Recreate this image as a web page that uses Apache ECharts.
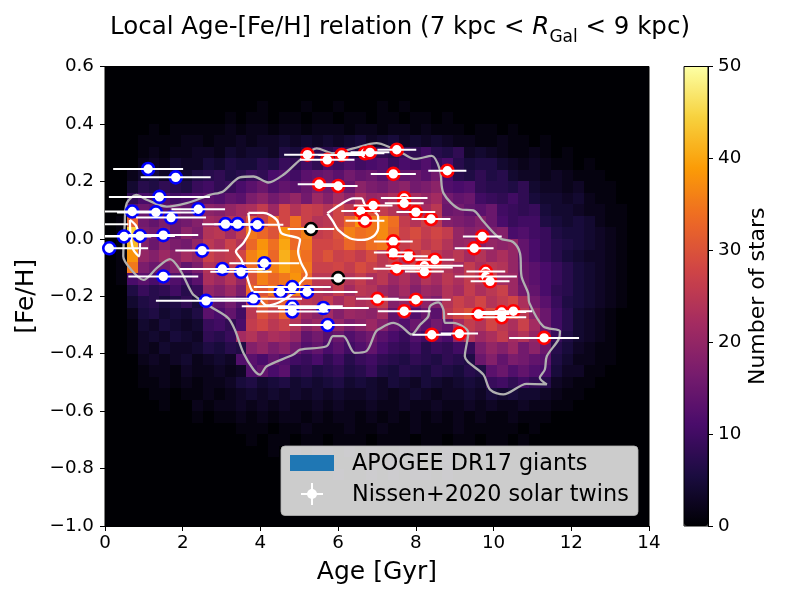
<!DOCTYPE html>
<html><head><meta charset="utf-8">
<style>html,body{margin:0;padding:0;background:#fff}#c{width:800px;height:600px}</style>
<script src="https://cdn.jsdelivr.net/npm/echarts@6/dist/echarts.min.js"></script>
</head><body><div id="c"></div>
<script>
const FONT='DejaVu Sans';
const xTicks=[0,2,4,6,8,10,12,14];
const cbarTicks=[0,10,20,30,40,50];
const ageBinWidth=0.28, fehBinWidth=0.04, fehTop=0.6;
const inferno=['#000004','#1b0c41','#4a0c6b','#781c6d','#a52c60','#cf4446','#ed6925','#fb9b06','#f7d13d','#fcffa4'];
// star counts per bin, top row first; trailing zeros omitted
const counts=[
[],[],[],
[0,0,0,0,0,0,0,0,0,0,0,0,0,0,1,0,0,0,1,0,0,1,0,0,0,1,0,1],
[0,0,0,0,0,0,0,0,0,0,0,1,0,1,1,0,1,1,0,1,1,0,1,1,0,1,1,0,1,1,0,1],
[0,0,0,0,1,0,1,1,1,1,1,2,1,2,2,1,2,2,1,2,2,2,1,2,2,1,2,2,1,2,1,1,1,0,1,1,0,1],
[0,0,0,1,1,1,1,2,2,1,2,2,3,2,3,3,4,3,4,3,4,3,4,5,3,4,5,3,4,3,4,3,2,2,1,1,2,1,1,0,1],
[0,0,0,1,2,1,2,2,3,3,2,4,3,4,4,3,6,5,7,8,7,9,8,6,9,8,7,9,8,10,7,6,8,3,4,3,2,1,1,2,1,0,1],
[0,0,0,2,3,2,4,3,3,5,4,6,5,5,7,6,9,8,10,8,11,10,12,10,11,12,9,11,10,12,9,11,7,5,6,6,4,3,2,3,2,1,1,0,1],
[0,0,2,4,5,3,5,4,6,7,8,6,7,9,8,11,12,10,13,14,15,13,16,14,15,13,16,14,15,13,16,11,7,6,8,6,7,4,3,3,2,3,2,1,1,1],
[0,0,4,7,6,8,7,6,9,10,8,9,11,13,15,12,14,13,15,17,16,18,15,19,17,16,18,19,16,17,19,12,11,12,8,7,7,6,8,4,3,3,2,3,1,1,1],
[0,0,8,11,10,12,10,11,12,13,12,14,13,17,19,16,18,20,16,21,18,22,19,23,20,21,23,18,22,20,22,16,14,15,10,9,8,10,8,5,4,4,3,4,2,1,1],
[0,0,13,15,14,13,16,14,15,19,18,20,22,23,26,21,28,24,27,26,24,28,25,27,30,26,24,23,26,22,25,15,16,14,13,15,10,9,8,9,5,4,4,3,2,2,1,1],
[0,1,32,16,14,17,15,16,18,22,21,24,23,30,27,33,28,34,27,24,25,28,33,38,35,37,34,26,24,27,25,18,17,16,18,15,11,9,10,10,6,5,4,5,4,2,1,1],
[0,1,44,17,16,18,15,19,17,24,25,22,26,35,33,30,38,33,36,26,27,30,36,34,35,37,33,27,29,26,28,26,20,18,19,17,18,11,12,10,9,6,5,5,4,3,2,1],
[0,1,42,18,15,19,17,16,20,25,23,27,24,33,38,34,40,33,35,28,28,29,33,31,34,35,30,26,28,25,27,24,20,21,18,20,19,20,14,11,9,7,6,5,4,3,2,1],
[0,1,38,20,18,21,19,22,20,27,25,26,28,36,39,33,41,36,34,28,30,27,28,26,29,25,27,24,26,28,25,23,25,22,24,21,23,20,14,11,9,7,5,4,3,3,2,1],
[0,1,35,17,15,16,18,14,17,24,23,26,22,33,42,36,40,37,35,27,27,28,26,29,27,25,26,23,27,24,26,24,22,26,23,25,24,20,15,13,11,9,7,5,4,3,2,1],
[0,1,11,13,11,14,12,10,13,23,21,24,20,30,36,33,35,38,33,25,25,28,24,26,23,25,21,23,20,24,22,25,23,26,24,27,22,21,15,13,11,9,7,5,4,3,2,1],
[0,0,6,9,7,8,10,7,9,20,18,21,17,33,30,35,31,36,29,24,23,26,22,25,24,21,19,22,18,21,20,24,22,26,23,25,27,21,16,14,11,8,7,5,4,3,2,1],
[0,0,4,6,7,5,6,8,5,15,13,16,12,26,33,29,32,27,25,24,26,22,25,23,24,26,18,20,16,19,17,24,27,25,28,24,26,28,23,16,13,9,6,5,4,3,2,1],
[0,0,2,5,6,4,5,4,6,13,11,14,10,25,30,27,32,26,21,19,22,18,21,20,19,22,14,16,12,15,13,25,28,30,26,29,27,30,25,19,15,10,7,4,3,2,1],
[0,0,1,4,3,5,4,3,4,9,10,8,11,26,28,25,27,24,19,21,18,20,17,19,21,18,14,12,15,13,16,14,22,26,24,28,25,23,27,22,15,10,7,4,3,2,1],
[0,0,1,3,4,3,5,4,3,8,7,9,22,24,21,23,22,20,14,16,13,15,12,14,16,13,11,9,12,10,13,11,20,24,21,23,26,22,24,20,14,9,6,4,3,2,1],
[0,0,1,3,2,4,3,3,4,6,5,7,6,18,20,17,19,16,12,14,11,13,10,12,14,11,9,8,10,7,9,8,10,9,17,20,18,21,16,19,15,7,5,3,2,1,1],
[0,0,0,2,3,2,3,4,2,3,4,3,12,13,11,14,12,10,9,11,8,10,7,9,10,8,7,6,8,7,6,8,7,6,15,18,14,17,16,14,13,6,4,2,2,1,1],
[0,0,0,1,2,2,1,3,2,2,3,2,3,12,14,11,13,7,8,6,7,8,6,7,9,6,5,7,6,5,7,6,5,7,6,13,15,12,14,12,11,5,3,3,1,1],
[0,0,0,1,1,2,1,2,1,2,2,3,5,6,4,5,6,4,5,4,5,6,4,5,4,3,5,4,3,5,4,3,4,5,4,9,10,8,10,8,7,3,2,1,1],
[0,0,0,0,1,1,0,1,1,2,1,2,3,4,3,4,3,4,3,4,3,4,3,3,4,3,2,3,4,3,2,3,3,4,3,5,4,5,4,4,3,2,1,1],
[0,0,0,0,0,1,0,0,2,1,2,2,3,2,3,2,3,2,2,3,2,3,2,2,3,2,2,3,2,2,3,2,2,3,2,3,2,2,3,2,2,1,1],
[0,0,0,0,0,0,0,0,1,0,1,1,2,1,2,1,2,2,1,2,1,2,2,1,2,1,2,1,2,1,2,1,2,1,2,1,1,2,1,1,1],
[0,0,0,0,0,0,0,0,0,0,0,0,1,1,1,0,1,1,2,1,1,1,2,1,1,2,1,1,2,1,1,1,2,1,1,1,1,1,0,1],
[0,0,0,0,0,0,0,0,0,0,0,0,0,1,0,1,1,0,1,1,0,1,1,1,0,1,1,1,0,1,1,0,1,1,0,1,1,0,1],
[0,0,0,0,0,0,0,0,0,0,0,0,0,0,0,1,0,1,0,1,1,0,1,0,1,0,0,1,0,1,0,1,0,0,1],
[0,0,0,0,0,0,0,0,0,0,0,0,0,0,0,0,0,1,0,0,1,0,0,1,0,0,1,0,1,0,0,1],
[0,0,0,0,0,0,0,0,0,0,0,0,0,0,0,0,0,0,0,0,0,1,0,0,1,0,1,0,1,1,0,1],
[],[],[],[]
];
const outerAge=[0.51,0.56,0.81,1.07,1.59,2.10,2.70,3.04,3.47,3.82,4.20,4.59,5.02,5.45,5.87,6.39,6.99,7.33,7.68,7.98,8.41,8.62,8.71,9.14,9.48,9.74,10.16,10.51,10.68,10.72,10.89,10.92,11.28,11.71,11.67,11.37,11.32,11.19,11.37,10.85,10.25,9.91,9.74,9.26,9.35,8.96,8.75,8.71,8.58,8.36,8.32,8.11,7.89,7.63,7.42,7.03,6.95,6.73,6.43,6.13,5.87,5.70,5.02,4.85,4.16,3.99,3.82,3.56,3.34,3.17,2.70,2.27,2.19,1.93,1.67,1.33,0.99,0.64,0.47,0.51];
const outerFeh=[0.054,0.124,0.153,0.136,0.112,0.124,0.153,0.165,0.214,0.217,0.196,0.223,0.275,0.315,0.298,0.315,0.333,0.319,0.296,0.278,0.289,0.24,0.159,0.103,0.099,0.060,0.002,-0.012,-0.05,-0.131,-0.189,-0.223,-0.305,-0.322,-0.351,-0.409,-0.455,-0.484,-0.507,-0.505,-0.542,-0.525,-0.473,-0.409,-0.328,-0.293,-0.293,-0.247,-0.221,-0.235,-0.27,-0.299,-0.333,-0.305,-0.293,-0.316,-0.328,-0.391,-0.397,-0.339,-0.339,-0.374,-0.386,-0.403,-0.444,-0.473,-0.455,-0.397,-0.316,-0.276,-0.235,-0.194,-0.177,-0.108,-0.071,-0.102,-0.143,-0.102,-0.061,0.054];
const innerYoungAge=[3.69,4.07,4.42,4.54,5.02,4.97,5.05,5.19,5.02,4.84,4.5,4.16,3.99,3.77,3.64,3.51,3.37,3.56,3.73,3.69];
const innerYoungFeh=[0.090,0.090,0.066,0.020,-0.003,-0.044,-0.085,-0.125,-0.154,-0.189,-0.22,-0.232,-0.212,-0.177,-0.125,-0.073,-0.044,-0.015,0.032,0.090];
const innerOldAge=[5.72,6.04,6.39,6.60,6.69,7.03,7.03,6.90,6.60,6.30,6.0,5.87,5.72];
const innerOldFeh=[0.089,0.118,0.141,0.141,0.118,0.077,0.037,0.008,-0.004,0.002,0.031,0.060,0.089];
const innerLeftAge=[0.64,0.81,0.90,0.88,0.73,0.66,0.64];
const innerLeftFeh=[0.066,0.043,-0.015,-0.061,-0.038,0.009,0.066];
const blueAge=[1.11,1.82,1.40,0.70,1.31,2.40,1.70,3.10,3.41,3.92,0.49,0.90,1.50,0.11,2.50,1.50,3.02,3.50,4.10,4.52,4.82,5.20,2.60,3.82,4.82,4.82,5.62,5.73,-0.2];
const blueFeh=[0.243,0.214,0.146,0.095,0.092,0.103,0.074,0.051,0.051,0.049,0.008,0.010,0.013,-0.033,-0.041,-0.131,-0.105,-0.115,-0.085,-0.185,-0.168,-0.185,-0.216,-0.209,-0.235,-0.253,-0.241,-0.30,0.051];
const blueErr=[0.9,0.9,1.3,0.7,1.0,0.69,0.9,0.6,0.6,0.67,0.7,0.9,0.9,1.0,0.69,0.9,1.1,0.79,0.9,0.7,0.99,1.3,1.29,1.25,1.3,0.93,1.17,0.99,0.8];
const blackAge=[5.30,6.0];
const blackFeh=[0.034,-0.137];
const blackErr=[0.6,0.9];
const redAge=[5.21,5.72,6.09,6.69,6.82,5.51,6.0,7.51,7.42,8.81,7.70,7.70,6.90,6.58,6.69,8.0,8.39,9.71,9.50,7.42,7.42,7.81,8.49,7.51,8.15,8.22,8.22,9.80,9.80,9.91,7.01,8.0,7.70,9.61,10.21,10.21,10.51,8.41,9.12,11.30];
const redFeh=[0.293,0.275,0.292,0.298,0.301,0.19,0.184,0.310,0.226,0.237,0.142,0.124,0.116,0.097,0.063,0.093,0.069,0.008,-0.033,-0.009,-0.048,-0.061,-0.073,-0.104,-0.10,-0.094,-0.114,-0.114,-0.131,-0.148,-0.209,-0.212,-0.252,-0.262,-0.255,-0.273,-0.252,-0.334,-0.330,-0.345];
const redErr=[0.6,0.7,0.6,0.5,0.5,0.55,0.5,0.5,0.58,0.49,0.6,0.5,0.5,0.5,0.5,0.5,0.5,0.5,0.5,0.5,0.5,0.5,0.5,0.6,0.8,1.0,0.5,0.5,0.8,0.5,0.55,0.9,0.68,0.8,0.63,0.63,0.48,0.5,0.48,0.9];

const cells=[];
counts.forEach((row,j)=>row.forEach((v,i)=>{ if(v>0) cells.push([i*ageBinWidth,fehTop-(j+1)*fehBinWidth,v]); }));
const zip3=(a,b,c)=>a.map((v,i)=>[v,b[i],c[i]]);
const zip2=(a,b)=>a.map((v,i)=>[v,b[i]]);
const points=zip3(blueAge,blueFeh,blueErr).concat(zip3(blackAge,blackFeh,blackErr),zip3(redAge,redFeh,redErr));

const chart=echarts.init(document.getElementById('c'),null,{renderer:'canvas'});
const contour=(a,b,color)=>({type:'line',data:zip2(a,b),showSymbol:false,smooth:0.3,clip:true,silent:true,z:3,
  lineStyle:{color:color,width:2.3},xAxisIndex:0,yAxisIndex:0,animation:false});
const marks=(a,b,color)=>({type:'scatter',data:zip2(a,b),symbol:'circle',symbolSize:12,clip:true,silent:true,z:4,
  itemStyle:{color:'#fff',borderColor:color,borderWidth:2.6,opacity:1},xAxisIndex:0,yAxisIndex:0,animation:false});
const T={fontFamily:FONT,color:'#000'};
chart.setOption({
  animation:false,backgroundColor:'#fff',
  title:{left:'center',top:5,text:'{t|Local Age-[Fe/H] relation (7 kpc < }{i|R}{s|Gal}{t| < 9 kpc)}',
    textStyle:{fontFamily:FONT,fontSize:24.5,fontWeight:'normal',color:'#000',
      rich:{t:{fontFamily:FONT,fontSize:24.5,color:'#000',lineHeight:36},
            i:{fontFamily:FONT,fontSize:24.5,fontStyle:'italic',color:'#000',lineHeight:36},
            s:{fontFamily:FONT,fontSize:17,color:'#000',lineHeight:26,verticalAlign:'bottom'}}}},
  grid:[{left:105,top:66.5,width:544,height:459.5,show:true,backgroundColor:'#000004',borderColor:'#000',borderWidth:1,containLabel:false},
        {left:684,top:66.5,width:24,height:459.5,show:true,backgroundColor:'transparent',borderColor:'#000',borderWidth:1,z:10}],
  xAxis:[{gridIndex:0,type:'value',min:0,max:14,interval:2,name:'Age [Gyr]',nameLocation:'middle',nameGap:34,
          nameTextStyle:{...T,fontSize:25},axisLabel:{...T,fontSize:18.3,margin:8},
          axisLine:{show:true,onZero:false,lineStyle:{color:'#000'}},axisTick:{show:true,length:5,lineStyle:{color:'#000'}},splitLine:{show:false}},
         {gridIndex:1,type:'value',min:0,max:1,show:false}],
  yAxis:[{gridIndex:0,type:'value',min:-1,max:0.6,interval:0.2,name:'[Fe/H]',nameLocation:'middle',nameGap:60,nameRotate:90,
          nameTextStyle:{...T,fontSize:25},axisLabel:{...T,fontSize:18.3,margin:11,formatter:v=>v.toFixed(1).replace('-','\u2212')},
          axisLine:{show:true,onZero:false,lineStyle:{color:'#000'}},axisTick:{show:true,length:5,lineStyle:{color:'#000'}},splitLine:{show:false}},
         {gridIndex:1,type:'value',min:cbarTicks[0],max:cbarTicks[cbarTicks.length-1],interval:10,position:'right',
          name:'Number of stars',nameLocation:'middle',nameGap:39,nameRotate:90,
          nameTextStyle:{...T,fontSize:22},axisLabel:{...T,fontSize:18.3,margin:10},
          axisLine:{show:true,onZero:false,lineStyle:{color:'#000'}},axisTick:{show:true,length:5,lineStyle:{color:'#000'}},splitLine:{show:false},z:10}],
  visualMap:{type:'continuous',min:0,max:50,seriesIndex:0,dimension:2,left:684,top:66.5,itemWidth:24,itemHeight:459.5,padding:0,
    calculable:false,hoverLink:false,text:null,inRange:{color:inferno},z:1},
  series:[
    {type:'custom',data:cells,xAxisIndex:0,yAxisIndex:0,clip:true,silent:true,z:1,animation:false,progressive:0,
     encode:{x:0,y:1},
     renderItem(p,api){
       const x=api.value(0),y=api.value(1);
       const a=api.coord([x,y+fehBinWidth]),b=api.coord([x+ageBinWidth,y]);
       return {type:'rect',shape:{x:Math.round(a[0]),y:Math.round(a[1]),width:Math.round(b[0])-Math.round(a[0]),height:Math.round(b[1])-Math.round(a[1])},
         style:{fill:api.visual('color')}};
     }},
    contour(outerAge,outerFeh,'#b0b0b0'),
    contour(innerYoungAge,innerYoungFeh,'#ffffff'),
    contour(innerOldAge,innerOldFeh,'#ffffff'),
    contour(innerLeftAge,innerLeftFeh,'#ffffff'),
    marks(blueAge,blueFeh,'#0000ff'),
    marks(blackAge,blackFeh,'#000000'),
    marks(redAge,redFeh,'#ff0000'),
    {type:'custom',data:points,xAxisIndex:0,yAxisIndex:0,clip:true,silent:true,z:5,animation:false,progressive:0,
     encode:{x:0,y:1},
     renderItem(p,api){
       const x=api.value(0),y=api.value(1),e=api.value(2);
       const a=api.coord([x-e,y]),b=api.coord([x+e,y]);
       return {type:'line',shape:{x1:a[0],y1:a[1],x2:b[0],y2:b[1]},style:{stroke:'#fff',lineWidth:2}};
     }}
  ],
  graphic:[
    {type:'rect',z:100,shape:{x:281,y:446,width:357,height:69.5,r:4},style:{fill:'rgba(255,255,255,0.8)',stroke:'rgba(180,180,180,0.8)',lineWidth:1}},
    {type:'rect',z:101,shape:{x:290,y:455,width:44,height:16},style:{fill:'#1f77b4'}},
    {type:'line',z:101,shape:{x1:301,y1:494,x2:323,y2:494},style:{stroke:'#fff',lineWidth:2}},
    {type:'line',z:101,shape:{x1:312,y1:483,x2:312,y2:505},style:{stroke:'#fff',lineWidth:2}},
    {type:'circle',z:101,shape:{cx:312,cy:494,r:5},style:{fill:'#fff'}},
    {type:'text',z:101,x:352,y:464,style:{text:'APOGEE DR17 giants',font:'22.3px "DejaVu Sans"',fill:'#000',verticalAlign:'middle'}},
    {type:'text',z:101,x:352,y:495,style:{text:'Nissen+2020 solar twins',font:'22.3px "DejaVu Sans"',fill:'#000',verticalAlign:'middle'}}
  ]
});
</script></body></html>
